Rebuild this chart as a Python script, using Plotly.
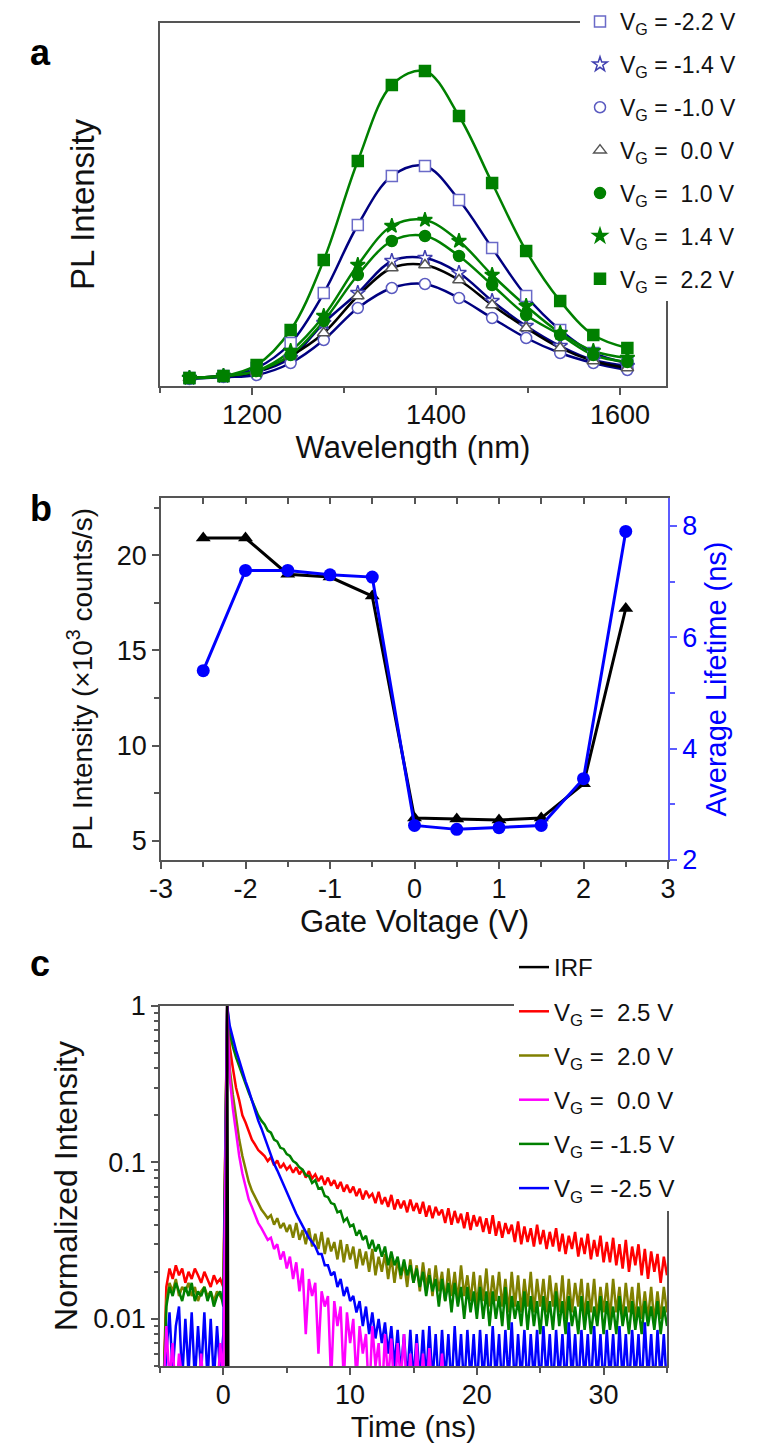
import math
import plotly.graph_objects as go

W, H = 760, 1447

# ---------------------------------------------------------------------------
# panel a: PL spectra at several gate voltages (arbitrary units)
wavelength_nm = [1132, 1169, 1205, 1242, 1278, 1315, 1352, 1388, 1425, 1461, 1498, 1535, 1571, 1608]
pl_m22 = [8, 10, 18, 43, 93, 161, 210, 220, 186, 138, 90, 56, 33, 23]
pl_m14 = [8, 10, 14, 28, 63, 93, 125, 128, 113, 85, 60, 40, 26, 20]
pl_m10 = [7, 9, 11, 23, 46, 78, 98, 102, 88, 68, 48, 33, 23, 16]
pl_00 = [8, 10, 14, 30, 53, 90, 118, 121, 106, 81, 58, 38, 25, 18]
pl_p10 = [8, 10, 15, 31, 65, 111, 145, 150, 130, 101, 71, 51, 31, 24]
pl_p14 = [8, 10, 15, 35, 70, 121, 160, 166, 145, 111, 80, 53, 35, 28]
pl_p22 = [8, 10, 21, 56, 126, 225, 301, 315, 270, 203, 135, 85, 51, 38]

# ---------------------------------------------------------------------------
# panel b: PL intensity and average lifetime vs gate voltage
gate_v = [-2.5, -2.0, -1.5, -1.0, -0.5, 0.0, 0.5, 1.0, 1.5, 2.0, 2.5]
pl_kcps = [20.9, 20.9, 19.0, 18.85, 17.85, 6.2, 6.15, 6.1, 6.2, 8.0, 17.2]
lifetime_ns = [5.4, 7.2, 7.2, 7.12, 7.08, 2.62, 2.55, 2.58, 2.62, 3.46, 7.9]
gate_ticks = [-3, -2, -1, 0, 1, 2, 3]
gate_ticktext = ['-3', '-2', '-1', '0', '1', '2', '3']

# ---------------------------------------------------------------------------
# panel c: normalized decay traces, time bins of 0.25 ns (peak bin at 0.3 ns)
time_ns = [-5 + 0.25 * i for i in range(21)] + [0.3] + [0.25 * i for i in range(2, 141)]

irf_t = [-5, 0.15, 0.3, 0.45, 35]
irf_v = [1e-4, 1e-4, 1.0, 1e-4, 1e-4]

dec_p25 = ([0.002, 0.003, 0.016, 0.021, 0.018, 0.022, 0.019, 0.021, 0.017, 0.02, 0.018,
            0.021, 0.019, 0.017, 0.02, 0.018, 0.016, 0.019, 0.017, 0.018, 0.016] + [1.0] +
           [0.55, 0.4, 0.3, 0.25, 0.2, 0.18, 0.16, 0.14, 0.13, 0.12, 0.115, 0.11, 0.102, 0.108,
            0.096, 0.103, 0.092, 0.098, 0.09,
            0.095, 0.086, 0.093, 0.084, 0.09, 0.08, 0.088, 0.079, 0.084, 0.076,
            0.082, 0.072, 0.08, 0.071, 0.077, 0.068, 0.075, 0.065, 0.072, 0.064,
            0.07, 0.061, 0.068, 0.058, 0.066, 0.06, 0.063, 0.055, 0.065, 0.054,
            0.06, 0.052, 0.062, 0.05, 0.058, 0.051, 0.057, 0.048, 0.058, 0.049,
            0.055, 0.047, 0.056, 0.045, 0.053, 0.044, 0.052, 0.046, 0.05, 0.041,
            0.051, 0.04, 0.049, 0.041, 0.047, 0.038, 0.048, 0.037, 0.046, 0.039,
            0.045, 0.036, 0.044, 0.035, 0.046, 0.034, 0.042, 0.033, 0.041, 0.035,
            0.04, 0.031, 0.042, 0.03, 0.039, 0.031, 0.038, 0.029, 0.04, 0.03,
            0.037, 0.028, 0.036, 0.029, 0.038, 0.027, 0.035, 0.026, 0.034, 0.028,
            0.036, 0.025, 0.033, 0.026, 0.035, 0.024, 0.032, 0.025, 0.034, 0.023,
            0.031, 0.023, 0.033, 0.022, 0.03, 0.021, 0.032, 0.02, 0.029, 0.022,
            0.03, 0.019, 0.028, 0.018, 0.027, 0.02, 0.026, 0.017, 0.025, 0.019])
dec_p20 = ([0.002, 0.003, 0.013, 0.017, 0.015, 0.018, 0.014, 0.016, 0.015, 0.017, 0.014,
            0.016, 0.013, 0.015, 0.016, 0.014, 0.015, 0.013, 0.015, 0.014, 0.013] + [1.0] +
           [0.4, 0.27, 0.19, 0.14, 0.11, 0.09, 0.075, 0.066, 0.06, 0.054, 0.05, 0.047, 0.044,
            0.046, 0.04, 0.044, 0.038, 0.041, 0.036,
            0.04, 0.033, 0.041, 0.032, 0.037, 0.03, 0.038, 0.029, 0.035, 0.028,
            0.036, 0.026, 0.033, 0.027, 0.031, 0.024, 0.032, 0.023, 0.03, 0.024,
            0.029, 0.021, 0.028, 0.022, 0.027, 0.02, 0.028, 0.019, 0.025, 0.02,
            0.026, 0.018, 0.025, 0.017, 0.024, 0.018, 0.023, 0.016, 0.024, 0.017,
            0.022, 0.015, 0.023, 0.016, 0.021, 0.014, 0.022, 0.015, 0.02, 0.013,
            0.021, 0.014, 0.02, 0.013, 0.022, 0.014, 0.019, 0.013, 0.02, 0.012,
            0.019, 0.013, 0.021, 0.012, 0.019, 0.013, 0.02, 0.012, 0.018, 0.011,
            0.02, 0.012, 0.019, 0.011, 0.018, 0.012, 0.02, 0.011, 0.018, 0.012,
            0.018, 0.011, 0.019, 0.012, 0.017, 0.011, 0.019, 0.01, 0.018, 0.011,
            0.017, 0.012, 0.018, 0.01, 0.017, 0.011, 0.018, 0.01, 0.016, 0.011,
            0.017, 0.01, 0.018, 0.011, 0.016, 0.01, 0.017, 0.011, 0.016, 0.0095,
            0.017, 0.01, 0.015, 0.01, 0.016, 0.0095, 0.015, 0.01, 0.016, 0.011])
# the 0.0 V trace drops below the axis after ~20 ns
dec_00 = ([0.002, 0.003, 0.009, 0.004, 0.007, 0.003, 0.006, 0.004, 0.003, 0.005, 0.003,
           0.004, 0.003, 0.006, 0.003, 0.004, 0.003, 0.005, 0.003, 0.007, 0.004] + [1.0] +
          [0.35, 0.22, 0.15, 0.11, 0.085, 0.07, 0.058, 0.052, 0.046, 0.041, 0.038, 0.035, 0.032,
           0.033, 0.028, 0.03, 0.024, 0.027, 0.021,
           0.025, 0.018, 0.023, 0.015, 0.021, 0.008, 0.018, 0.014, 0.017, 0.006,
           0.015, 0.012, 0.014, 0.004, 0.013, 0.009, 0.012, 0.004, 0.011, 0.007,
           0.01, 0.004, 0.009, 0.006, 0.008, 0.003, 0.009, 0.005, 0.007, 0.003,
           0.008, 0.004, 0.0075, 0.003, 0.007, 0.004, 0.008, 0.003, 0.006, 0.003,
           0.007, 0.003, 0.006, 0.003, 0.0065, 0.003, 0.005, 0.003, 0.006, 0.003,
           0.004, 0.003, 0.005, 0.003, 0.004, 0.003, 0.004, 0.003, 0.004, 0.003])
dec_m15 = ([0.002, 0.003, 0.012, 0.016, 0.014, 0.017, 0.015, 0.013, 0.016, 0.014, 0.017,
            0.013, 0.015, 0.014, 0.016, 0.013, 0.015, 0.012, 0.014, 0.015, 0.012] + [1.0] +
           [0.68, 0.55, 0.47, 0.41, 0.36, 0.32, 0.28, 0.25, 0.225, 0.2, 0.185, 0.175, 0.16,
            0.155, 0.14, 0.136, 0.124, 0.122, 0.113,
            0.11, 0.102, 0.099, 0.093, 0.09, 0.083, 0.082, 0.074, 0.077, 0.068,
            0.069, 0.061, 0.06, 0.055, 0.054, 0.048, 0.049, 0.042, 0.044, 0.039,
            0.04, 0.034, 0.037, 0.032, 0.034, 0.028, 0.032, 0.027, 0.03, 0.025,
            0.029, 0.022, 0.027, 0.022, 0.025, 0.019, 0.024, 0.019, 0.022, 0.017,
            0.021, 0.016, 0.02, 0.014, 0.019, 0.015, 0.018, 0.012, 0.018, 0.013,
            0.017, 0.011, 0.017, 0.012, 0.016, 0.01, 0.016, 0.011, 0.015, 0.01,
            0.016, 0.01, 0.015, 0.009, 0.015, 0.01, 0.014, 0.009, 0.016, 0.0085,
            0.014, 0.01, 0.013, 0.009, 0.015, 0.0085, 0.014, 0.009, 0.013, 0.008,
            0.014, 0.009, 0.013, 0.0085, 0.015, 0.009, 0.013, 0.008, 0.014, 0.009,
            0.012, 0.008, 0.014, 0.0085, 0.013, 0.008, 0.012, 0.009, 0.014, 0.008,
            0.013, 0.0085, 0.012, 0.008, 0.014, 0.009, 0.012, 0.008, 0.013, 0.0085,
            0.012, 0.008, 0.013, 0.009, 0.012, 0.0085, 0.013, 0.008, 0.012, 0.009])
dec_m25 = ([0.002, 0.003, 0.006, 0.011, 0.0045, 0.009, 0.012, 0.004, 0.01, 0.0045, 0.011,
            0.004, 0.009, 0.0045, 0.011, 0.004, 0.01, 0.004, 0.009, 0.0045, 0.008] + [1.0] +
           [0.75, 0.62, 0.52, 0.45, 0.38, 0.33, 0.29, 0.25, 0.21, 0.185, 0.165, 0.145, 0.125,
            0.11, 0.098, 0.089, 0.08, 0.071, 0.064,
            0.058, 0.052, 0.047, 0.043, 0.039, 0.036, 0.033, 0.031, 0.029, 0.026,
            0.026, 0.022, 0.022, 0.019, 0.02, 0.016, 0.018, 0.014, 0.016, 0.013,
            0.014, 0.011, 0.013, 0.009, 0.012, 0.008, 0.011, 0.0075, 0.01, 0.007,
            0.0095, 0.006, 0.009, 0.005, 0.0085, 0.0045, 0.008, 0.004, 0.0085, 0.004,
            0.008, 0.004, 0.0085, 0.004, 0.009, 0.004, 0.008, 0.0035, 0.0085, 0.004,
            0.008, 0.0035, 0.009, 0.004, 0.008, 0.0035, 0.0085, 0.004, 0.008, 0.0035,
            0.0085, 0.004, 0.008, 0.0035, 0.009, 0.004, 0.008, 0.0035, 0.0085, 0.004,
            0.0095, 0.0035, 0.008, 0.004, 0.0085, 0.0035, 0.008, 0.004, 0.0085, 0.0035,
            0.009, 0.004, 0.008, 0.0035, 0.0085, 0.004, 0.008, 0.0035, 0.0095, 0.004,
            0.008, 0.0035, 0.0085, 0.004, 0.008, 0.0035, 0.009, 0.004, 0.008, 0.0035,
            0.0085, 0.004, 0.008, 0.0035, 0.009, 0.004, 0.008, 0.0035, 0.0085, 0.004,
            0.008, 0.0035, 0.0095, 0.004, 0.008, 0.0035, 0.0085, 0.004, 0.008, 0.0035])


def dom_x(left, right):
    return [left / W, right / W]


def dom_y(top, bottom):
    return [1 - bottom / H, 1 - top / H]


AX = '#555555'
NAVY = '#000080'
GREEN = '#008000'

fig = go.Figure()

# ____________________________________________________________________________
# panel a
spectra = [
    ('V<sub>G</sub> = -2.2 V', pl_m22, NAVY, 'square', 'white', '#6a6ac8'),
    ('V<sub>G</sub> = -1.4 V', pl_m14, NAVY, 'star', 'white', '#4040b0'),
    ('V<sub>G</sub> = -1.0 V', pl_m10, NAVY, 'circle', 'white', '#5a5ac0'),
    ('V<sub>G</sub> =\u00a0 0.0 V', pl_00, 'black', 'triangle-up', 'white', '#555555'),
    ('V<sub>G</sub> =\u00a0 1.0 V', pl_p10, GREEN, 'circle', GREEN, GREEN),
    ('V<sub>G</sub> =\u00a0 1.4 V', pl_p14, GREEN, 'star', GREEN, GREEN),
    ('V<sub>G</sub> =\u00a0 2.2 V', pl_p22, GREEN, 'square', GREEN, GREEN),
]
for name, vals, col, sym, fill, edge in spectra:
    fig.add_trace(go.Scatter(x=wavelength_nm, y=vals, mode='lines',
                             line=dict(color=col, width=2.5, shape='spline'),
                             showlegend=False, xaxis='x', yaxis='y'))
for i, (name, vals, col, sym, fill, edge) in enumerate(spectra):
    fig.add_trace(go.Scatter(x=wavelength_nm, y=vals, mode='markers', name=name,
                             marker=dict(symbol=sym, size=11, color=fill,
                                         line=dict(color=edge, width=1.5)),
                             legend='legend', legendgroup='a%d' % i,
                             xaxis='x', yaxis='y'))

# ____________________________________________________________________________
# panel b
fig.add_trace(go.Scatter(x=gate_v, y=pl_kcps, mode='lines+markers',
                         line=dict(color='black', width=3),
                         marker=dict(symbol='triangle-up', size=13, color='black'),
                         showlegend=False, xaxis='x2', yaxis='y2'))
fig.add_trace(go.Scatter(x=gate_v, y=lifetime_ns, mode='lines+markers',
                         line=dict(color='#0000ff', width=3),
                         marker=dict(symbol='circle', size=13, color='#0000ff'),
                         showlegend=False, xaxis='x2', yaxis='y3'))
# carrier for the inner ticks along the top edge
fig.add_trace(go.Scatter(x=[0], y=[None], mode='lines', showlegend=False,
                         hoverinfo='skip', xaxis='x4', yaxis='y2'))

# ____________________________________________________________________________
# panel c
decays = [
    ('V<sub>G</sub> =\u00a0 2.5 V', dec_p25, '#ff0000', 2),
    ('V<sub>G</sub> =\u00a0 2.0 V', dec_p20, '#808000', 3),
    ('V<sub>G</sub> = -1.5 V', dec_m15, '#008000', 5),
    ('V<sub>G</sub> = -2.5 V', dec_m25, '#0000ff', 6),
    ('V<sub>G</sub> =\u00a0 0.0 V', dec_00, '#ff00ff', 4),
]
for name, vals, col, rank in decays:
    fig.add_trace(go.Scatter(x=time_ns[:len(vals)], y=vals, mode='lines', name=name,
                             line=dict(color=col, width=2.5),
                             legend='legend2', legendgroup='c%d' % rank, legendrank=rank,
                             xaxis='x3', yaxis='y4'))
fig.add_trace(go.Scatter(x=irf_t, y=irf_v, mode='lines', name='IRF',
                         line=dict(color='black', width=2.5),
                         legend='legend2', legendgroup='c1', legendrank=1,
                         xaxis='x3', yaxis='y4'))

# ____________________________________________________________________________
# axes
base = dict(showline=True, linecolor=AX, linewidth=1.5, showgrid=False, zeroline=False,
            ticks='outside', tickcolor=AX, tickwidth=1.5, ticklen=7,
            tickfont=dict(size=27, color='#111'))
minor_style = dict(ticks='outside', ticklen=5, tickcolor=AX, tickwidth=1.5, showgrid=False)

fig.update_layout(
    xaxis=dict(base, domain=dom_x(152, 658), anchor='y', range=[1100, 1650],
               tick0=1200, dtick=200, mirror=True, ticklabelstandoff=-3,
               minor=dict(minor_style, tick0=1100, dtick=100),
               title=dict(text='Wavelength (nm)', font=dict(size=31), standoff=2)),
    yaxis=dict(base, domain=dom_y(15, 378), anchor='x', range=[0, 363],
               ticks='', showticklabels=False, mirror=True,
               title=dict(text='PL Intensity', font=dict(size=33), standoff=54)),

    xaxis2=dict(base, domain=dom_x(153, 660), anchor='y2', range=[-3, 3],
                tickvals=gate_ticks, ticktext=gate_ticktext, ticklabelstandoff=-3,
                minor=dict(minor_style, dtick=0.5),
                title=dict(text='Gate Voltage (V)', font=dict(size=31), standoff=2)),
    yaxis2=dict(base, domain=dom_y(490, 852), anchor='x2', range=[4, 23],
                tick0=5, dtick=5, minor=dict(minor_style, tick0=5, dtick=2.5),
                title=dict(text='PL Intensity (\u00d710<sup>3</sup> counts/s)',
                           font=dict(size=28), standoff=16)),
    yaxis3=dict(base, overlaying='y2', anchor='x2', side='right', range=[2, 8.5],
                dtick=2, linecolor='#5c5cff', tickcolor='#5c5cff',
                tickfont=dict(size=27, color='#0000ff'),
                minor=dict(minor_style, dtick=1, tickcolor='#5c5cff'),
                title=dict(text='Average Lifetime (ns)',
                           font=dict(size=29, color='#0000ff'), standoff=10)),
    xaxis4=dict(overlaying='x2', anchor='y2', side='top', range=[-3, 3], dtick=0.5,
                showline=True, linecolor=AX, linewidth=1.5, showgrid=False, zeroline=False,
                ticks='inside', ticklen=6, tickcolor=AX, tickwidth=1.5, showticklabels=False),

    xaxis3=dict(base, domain=dom_x(152, 659), anchor='y4', range=[-5, 35],
                tick0=0, dtick=10, mirror=True, ticklabelstandoff=-3,
                minor=dict(minor_style, tick0=-5, dtick=5),
                title=dict(text='Time (ns)', font=dict(size=30), standoff=0)),
    yaxis4=dict(base, domain=dom_y(998, 1358), anchor='x3', type='log',
                range=[math.log10(0.005), 0], mirror=True,
                tickvals=[0.01, 0.1, 1], ticktext=['0.01', '0.1', '1'],
                minor=dict(minor_style, ticklen=4,
                           tickvals=[k * 10 ** e for e in (-3, -2, -1) for k in range(2, 10)]),
                title=dict(text='Normalized Intensity', font=dict(size=32), standoff=6)),
)

# ____________________________________________________________________________
# legends and panel letters
fig.update_layout(
    width=W, height=H, margin=dict(l=0, r=0, t=0, b=0, autoexpand=False),
    template='none', paper_bgcolor='white', plot_bgcolor='white',
    font=dict(family='Arial, Liberation Sans, sans-serif', size=26, color='#111'),
    legend=dict(x=572 / W, y=1 + 8 / H, xanchor='left', yanchor='top', bgcolor='white',
                font=dict(size=23), tracegroupgap=10, traceorder='grouped',
                borderwidth=0, itemwidth=30),
    legend2=dict(x=506 / W, y=1 - 937 / H, xanchor='left', yanchor='top', bgcolor='white',
                 font=dict(size=24), tracegroupgap=10, traceorder='grouped',
                 borderwidth=0, itemwidth=30),
    annotations=[
        dict(text='<b>a</b>', x=20 / W, y=1 - 22 / H, xref='paper', yref='paper',
             showarrow=False, font=dict(size=36, color='black')),
        dict(text='<b>b</b>', x=20 / W, y=1 - 500 / H, xref='paper', yref='paper',
             showarrow=False, font=dict(size=36, color='black')),
        dict(text='<b>c</b>', x=20 / W, y=1 - 978 / H, xref='paper', yref='paper',
             showarrow=False, font=dict(size=36, color='black')),
    ],
)

fig.write_html('out.html')
